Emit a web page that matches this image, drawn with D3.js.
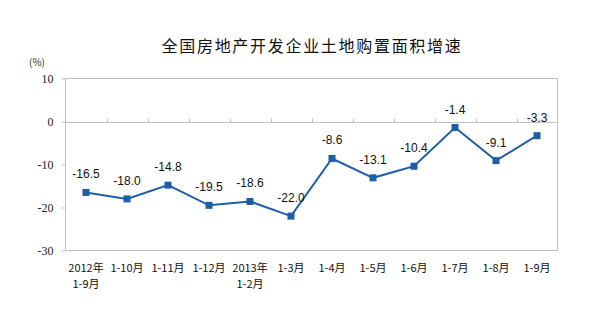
<!DOCTYPE html>
<html>
<head>
<meta charset="utf-8">
<script src="https://cdn.jsdelivr.net/npm/d3@7"></script>
<style>
  html, body { margin: 0; padding: 0; background: #fff; }
  svg { display: block; }
</style>
</head>
<body>
<svg id="chart" width="596" height="326"></svg>
<script>
// Land purchase area growth, cumulative year-to-date (%)
const categories = [
  ["2012年", "1-9月"], ["1-10月"], ["1-11月"], ["1-12月"],
  ["2013年", "1-2月"], ["1-3月"], ["1-4月"], ["1-5月"],
  ["1-6月"], ["1-7月"], ["1-8月"], ["1-9月"]
];
const growth = [-16.5, -18.0, -14.8, -19.5, -18.6, -22.0, -8.6, -13.1, -10.4, -1.4, -9.1, -3.3];
const yTicks = [10, 0, -10, -20, -30];
const title = "全国房地产开发企业土地购置面积增速";
const unit = "(%)";

const svg = d3.select("#chart");
const plot = { left: 65.5, right: 557.5, top: 78.5, bottom: 250.5 };
const frameColor = "#c0c0c0";
const lineColor = "#1d5fa6";

// plain hyphen-minus for negative numbers
const fmtInt = d => String(d);
const fmt1 = d => d.toFixed(1);

const x = d3.scaleBand()
  .domain(d3.range(categories.length))
  .range([plot.left, plot.right])
  .padding(0);
const y = d3.scaleLinear().domain([-30, 10]).range([plot.bottom, plot.top]);

// Title
svg.append("text")
  .attr("x", 312).attr("y", 52)
  .attr("text-anchor", "middle")
  .attr("font-family", "'Noto Sans CJK SC', sans-serif")
  .attr("font-size", 16)
  .attr("letter-spacing", 1.7)
  .attr("fill", "#111")
  .text(title);

// Unit
svg.append("text")
  .attr("x", 37).attr("y", 66)
  .attr("text-anchor", "middle")
  .attr("font-family", "'Noto Sans CJK SC', sans-serif")
  .attr("font-size", 10)
  .attr("fill", "#333")
  .text(unit);

// Plot frame
svg.append("rect")
  .attr("x", plot.left).attr("y", plot.top)
  .attr("width", plot.right - plot.left)
  .attr("height", plot.bottom - plot.top)
  .attr("fill", "none")
  .attr("stroke", frameColor)
  .attr("stroke-width", 1);

// Value axis
const yAxis = d3.axisLeft(y).tickValues(yTicks).tickSize(4).tickPadding(8).tickFormat(fmtInt);
const gy = svg.append("g").attr("transform", `translate(${plot.left},0)`).call(yAxis);
gy.select(".domain").remove();
gy.selectAll(".tick line").attr("stroke", frameColor);
gy.selectAll(".tick text")
  .attr("font-family", "'Liberation Serif', serif")
  .attr("font-size", 12)
  .attr("fill", "#222");

// Category axis along the zero line, ticks pointing up at band edges
const y0 = Math.round(y(0)) + 0.5;
svg.append("line")
  .attr("x1", plot.left).attr("x2", plot.right)
  .attr("y1", y0).attr("y2", y0)
  .attr("stroke", frameColor);
svg.append("g")
  .selectAll("line")
  .data(d3.range(1, categories.length))
  .join("line")
  .attr("x1", i => Math.round(x(i)) + 0.5)
  .attr("x2", i => Math.round(x(i)) + 0.5)
  .attr("y1", y0).attr("y2", y0 - 4)
  .attr("stroke", frameColor);

// Category labels below the frame
const catG = svg.append("g")
  .attr("font-family", "'Noto Sans CJK SC', sans-serif")
  .attr("font-size", 11)
  .attr("fill", "#111")
  .attr("text-anchor", "middle");
categories.forEach((lines, i) => {
  const t = catG.append("text").attr("x", x(i) + x.bandwidth() / 2).attr("y", 272);
  lines.forEach((s, k) => {
    t.append("tspan")
      .attr("x", x(i) + x.bandwidth() / 2)
      .attr("dy", k === 0 ? 0 : 16)
      .text(s);
  });
});

// Series line
const cx = i => x(i) + x.bandwidth() / 2;
svg.append("path")
  .datum(growth)
  .attr("fill", "none")
  .attr("stroke", lineColor)
  .attr("stroke-width", 2)
  .attr("d", d3.line().x((d, i) => cx(i)).y(d => y(d)));

// Square markers
svg.append("g")
  .selectAll("rect")
  .data(growth)
  .join("rect")
  .attr("x", (d, i) => cx(i) - 3.5)
  .attr("y", d => y(d) - 3.5)
  .attr("width", 7).attr("height", 7)
  .attr("fill", lineColor);

// Value labels
svg.append("g")
  .selectAll("text")
  .data(growth)
  .join("text")
  .attr("x", (d, i) => cx(i))
  .attr("y", d => y(d) - 14)
  .attr("text-anchor", "middle")
  .attr("font-family", "'Liberation Sans', Arial, sans-serif")
  .attr("font-size", 12)
  .attr("fill", "#111")
  .text(fmt1);
</script>
</body>
</html>
